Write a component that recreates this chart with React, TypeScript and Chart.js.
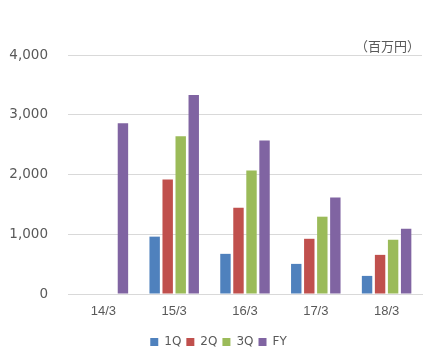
import React, { useEffect, useRef } from "react";
import { Chart, registerables } from "chart.js";

Chart.register(...registerables);

const categories = ["14/3", "15/3", "16/3", "17/3", "18/3"];
const seriesNames = ["1Q", "2Q", "3Q", "FY"];
const q1Values: (number | null)[] = [null, 960, 672, 504, 303];
const q2Values: (number | null)[] = [null, 1918, 1445, 924, 655];
const q3Values: (number | null)[] = [null, 2640, 2067, 1294, 908];
const fyValues: (number | null)[] = [2858, 3330, 2571, 1613, 1092];
const seriesColors = ["#4F81BD", "#C0504D", "#9BBB59", "#8064A2"];
const yTicks = [0, 1000, 2000, 3000, 4000];
const unitLabel = "（百万円）";

const textColor = "#595959";
const gridColor = "#D9D9D9";

const unitPlugin = {
  id: "unitLabel",
  afterDraw(chart: any) {
    const { ctx, chartArea } = chart;
    ctx.save();
    ctx.font = '13px "Noto Sans CJK JP"';
    ctx.fillStyle = textColor;
    ctx.textAlign = "right";
    ctx.textBaseline = "middle";
    ctx.fillText(unitLabel, chartArea.right - 2, chartArea.top - 9);
    ctx.restore();
  },
};

export default function App() {
  const ref = useRef<HTMLCanvasElement | null>(null);

  useEffect(() => {
    if (!ref.current) return;
    const values = [q1Values, q2Values, q3Values, fyValues];
    const chart = new Chart(ref.current, {
      type: "bar",
      data: {
        labels: categories,
        datasets: seriesNames.map((name, i) => ({
          label: name,
          data: values[i],
          backgroundColor: seriesColors[i],
          borderWidth: 0,
          categoryPercentage: 0.736,
          barPercentage: 0.8,
        })),
      },
      options: {
        responsive: false,
        animation: false,
        layout: { padding: { top: 55, left: 0, right: 0, bottom: 3 } },
        plugins: {
          legend: {
            position: "bottom",
            labels: {
              boxWidth: 8,
              boxHeight: 8,
              padding: 5,
              color: textColor,
              font: { family: "DejaVu Sans", size: 12 },
            },
          },
          tooltip: { enabled: false },
          title: { display: false },
        },
        scales: {
          x: {
            grid: { display: false, drawTicks: false },
            border: { display: true, color: gridColor },
            ticks: {
              color: textColor,
              padding: 10,
              font: { family: "Liberation Sans", size: 13 },
            },
            afterFit(scale: any) {
              scale.height = 37;
            },
          },
          y: {
            min: 0,
            max: 4000,
            afterBuildTicks(scale: any) {
              scale.ticks = yTicks.map((v) => ({ value: v }));
            },
            grid: { color: gridColor, drawTicks: false },
            border: { display: false },
            ticks: {
              color: textColor,
              padding: 20,
              font: { family: "DejaVu Sans", size: 13.5 },
              callback: (v: any) => Number(v).toLocaleString("en-US"),
            },
            afterFit(scale: any) {
              scale.width = 68;
            },
          },
          yR: {
            position: "right",
            display: true,
            grid: { display: false, drawTicks: false },
            border: { display: false },
            ticks: { display: false },
            afterFit(scale: any) {
              scale.width = 15;
            },
          },
        },
      },
      plugins: [unitPlugin],
    });
    return () => chart.destroy();
  }, []);

  return (
    <div style={{ position: "fixed", left: 0, top: 0, width: 437, height: 361, background: "#fff" }}>
      <canvas ref={ref} width={437} height={361} />
    </div>
  );
}
